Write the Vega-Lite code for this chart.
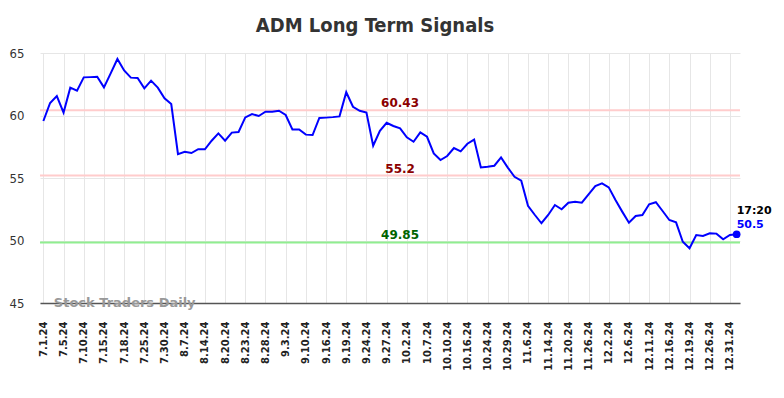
{
  "$schema": "https://vega.github.io/schema/vega-lite/v6.json",
  "width": 700,
  "height": 250,
  "autosize": {"type": "none"},
  "padding": {"left": 40, "top": 53, "right": 44, "bottom": 95},
  "background": "white",
  "title": {
    "text": "ADM Long Term Signals",
    "font": "DejaVu Sans Condensed",
    "fontSize": 20,
    "fontWeight": "bold",
    "color": "#333333",
    "anchor": "middle",
    "dx": -15,
    "offset": 11
  },
  "config": {
    "view": {"stroke": null},
    "axis": {"gridColor": "#e6e6e6", "gridWidth": 1}
  },
  "datasets": {
    "levels": [
      {"level": 60.43, "label": "60.43"},
      {"level": 55.2, "label": "55.2"},
      {"level": 49.85, "label": "49.85"}
    ],
    "mark": [{"t": "Stock Traders Daily"}]
  },
  "data": {"values": [
    {"d": "7.1.24", "v": 59.56}, {"d": "7.2.24", "v": 61.0}, {"d": "7.3.24", "v": 61.56},
    {"d": "7.5.24", "v": 60.23}, {"d": "7.8.24", "v": 62.23}, {"d": "7.9.24", "v": 61.98},
    {"d": "7.10.24", "v": 63.05}, {"d": "7.11.24", "v": 63.07}, {"d": "7.12.24", "v": 63.1},
    {"d": "7.15.24", "v": 62.25}, {"d": "7.16.24", "v": 63.37}, {"d": "7.17.24", "v": 64.52},
    {"d": "7.18.24", "v": 63.6}, {"d": "7.22.24", "v": 63.03}, {"d": "7.23.24", "v": 63.0},
    {"d": "7.25.24", "v": 62.17}, {"d": "7.26.24", "v": 62.79}, {"d": "7.29.24", "v": 62.23},
    {"d": "7.30.24", "v": 61.37}, {"d": "8.1.24", "v": 60.92}, {"d": "8.5.24", "v": 56.9},
    {"d": "8.7.24", "v": 57.1}, {"d": "8.9.24", "v": 57.0}, {"d": "8.12.24", "v": 57.3},
    {"d": "8.14.24", "v": 57.3}, {"d": "8.15.24", "v": 57.98}, {"d": "8.19.24", "v": 58.57},
    {"d": "8.20.24", "v": 57.98}, {"d": "8.21.24", "v": 58.63}, {"d": "8.22.24", "v": 58.68},
    {"d": "8.23.24", "v": 59.85}, {"d": "8.26.24", "v": 60.12}, {"d": "8.27.24", "v": 59.96},
    {"d": "8.28.24", "v": 60.3}, {"d": "8.29.24", "v": 60.3}, {"d": "8.30.24", "v": 60.38},
    {"d": "9.3.24", "v": 60.04}, {"d": "9.5.24", "v": 58.89}, {"d": "9.9.24", "v": 58.89},
    {"d": "9.10.24", "v": 58.47}, {"d": "9.12.24", "v": 58.44}, {"d": "9.13.24", "v": 59.8},
    {"d": "9.16.24", "v": 59.83}, {"d": "9.17.24", "v": 59.87}, {"d": "9.18.24", "v": 59.93},
    {"d": "9.19.24", "v": 61.86}, {"d": "9.20.24", "v": 60.7}, {"d": "9.23.24", "v": 60.38},
    {"d": "9.24.24", "v": 60.23}, {"d": "9.25.24", "v": 57.58}, {"d": "9.26.24", "v": 58.78},
    {"d": "9.27.24", "v": 59.42}, {"d": "9.30.24", "v": 59.16}, {"d": "10.1.24", "v": 58.97},
    {"d": "10.2.24", "v": 58.25}, {"d": "10.3.24", "v": 57.9}, {"d": "10.4.24", "v": 58.65},
    {"d": "10.7.24", "v": 58.3}, {"d": "10.8.24", "v": 56.97}, {"d": "10.9.24", "v": 56.44},
    {"d": "10.10.24", "v": 56.76}, {"d": "10.11.24", "v": 57.4}, {"d": "10.15.24", "v": 57.13},
    {"d": "10.16.24", "v": 57.74}, {"d": "10.18.24", "v": 58.07}, {"d": "10.22.24", "v": 55.85},
    {"d": "10.24.24", "v": 55.9}, {"d": "10.25.24", "v": 55.98}, {"d": "10.28.24", "v": 56.65},
    {"d": "10.29.24", "v": 55.83}, {"d": "11.1.24", "v": 55.1}, {"d": "11.4.24", "v": 54.78},
    {"d": "11.6.24", "v": 52.78}, {"d": "11.8.24", "v": 52.06}, {"d": "11.12.24", "v": 51.38},
    {"d": "11.14.24", "v": 52.04}, {"d": "11.18.24", "v": 52.84}, {"d": "11.19.24", "v": 52.5},
    {"d": "11.20.24", "v": 53.02}, {"d": "11.22.24", "v": 53.1}, {"d": "11.25.24", "v": 53.02},
    {"d": "11.26.24", "v": 53.69}, {"d": "11.27.24", "v": 54.36}, {"d": "11.29.24", "v": 54.57},
    {"d": "12.2.24", "v": 54.25}, {"d": "12.3.24", "v": 53.24}, {"d": "12.5.24", "v": 52.31},
    {"d": "12.6.24", "v": 51.42}, {"d": "12.9.24", "v": 51.96}, {"d": "12.10.24", "v": 52.04},
    {"d": "12.11.24", "v": 52.9}, {"d": "12.12.24", "v": 53.06}, {"d": "12.13.24", "v": 52.36},
    {"d": "12.16.24", "v": 51.64}, {"d": "12.17.24", "v": 51.45}, {"d": "12.18.24", "v": 49.9},
    {"d": "12.19.24", "v": 49.38}, {"d": "12.20.24", "v": 50.44}, {"d": "12.24.24", "v": 50.36},
    {"d": "12.26.24", "v": 50.57}, {"d": "12.27.24", "v": 50.55}, {"d": "12.30.24", "v": 50.1},
    {"d": "12.31.24", "v": 50.44}, {"d": "1.2.25", "v": 50.5, "time": "17:20"}
  ]},
  "layer": [
    {
      "data": {"name": "levels"},
      "mark": {"type": "rule", "strokeWidth": 2},
      "encoding": {
        "y": {"field": "level", "type": "quantitative", "scale": {"domain": [45, 65], "nice": false, "zero": false}},
        "color": {"condition": {"test": "datum.level < 50", "value": "#90ee90"}, "value": "#ffcccc"}
      }
    },
    {
      "mark": {"type": "line", "color": "#0000ff", "strokeWidth": 2},
      "encoding": {
        "x": {
          "field": "d", "type": "ordinal", "sort": null,
          "scale": {"type": "point", "padding": 0.5},
          "axis": {
            "title": null,
            "values": ["7.1.24","7.5.24","7.10.24","7.15.24","7.18.24","7.25.24","7.30.24","8.7.24","8.14.24","8.20.24","8.23.24","8.28.24","9.3.24","9.10.24","9.16.24","9.19.24","9.24.24","9.27.24","10.2.24","10.7.24","10.10.24","10.16.24","10.24.24","10.29.24","11.6.24","11.14.24","11.20.24","11.26.24","12.2.24","12.6.24","12.11.24","12.16.24","12.19.24","12.26.24","12.31.24"],
            "labelAngle": -90,
            "labelFont": "DejaVu Sans",
            "labelFontWeight": "bold",
            "labelFontSize": 10,
            "labelColor": "#222222",
            "labelPadding": 18,
            "ticks": false,
            "grid": true,
            "domain": true,
            "domainColor": "#555555",
            "domainWidth": 1.5
          }
        },
        "y": {
          "field": "v", "type": "quantitative",
          "scale": {"domain": [45, 65], "nice": false, "zero": false},
          "axis": {
            "title": null,
            "values": [45, 50, 55, 60, 65],
            "labelFont": "DejaVu Sans Condensed",
            "labelFontSize": 13,
            "labelColor": "#333333",
            "labelPadding": 16,
            "ticks": false,
            "domain": false,
            "grid": true
          }
        }
      }
    },
    {
      "data": {"name": "levels"},
      "mark": {"type": "text", "font": "DejaVu Sans", "fontWeight": "bold", "fontSize": 12, "align": "center", "baseline": "alphabetic", "dy": -3},
      "encoding": {
        "x": {"datum": "10.1.24"},
        "y": {"field": "level", "type": "quantitative"},
        "text": {"field": "label"},
        "color": {"condition": {"test": "datum.level < 50", "value": "#006400"}, "value": "#8b0000"}
      }
    },
    {
      "data": {"name": "mark"},
      "mark": {"type": "text", "font": "DejaVu Sans", "fontWeight": "bold", "fontSize": 13, "align": "left", "baseline": "middle", "color": "#999999", "dx": -3},
      "encoding": {
        "x": {"datum": "7.3.24"},
        "y": {"datum": 45},
        "text": {"field": "t"}
      }
    },
    {
      "transform": [{"filter": "datum.time != null"}],
      "mark": {"type": "point", "filled": true, "color": "#0000ff", "size": 60, "opacity": 1},
      "encoding": {
        "x": {"field": "d", "type": "ordinal", "sort": null},
        "y": {"field": "v", "type": "quantitative"}
      }
    },
    {
      "transform": [{"filter": "datum.time != null"}],
      "mark": {"type": "text", "font": "DejaVu Sans", "fontWeight": "bold", "fontSize": 11, "align": "left", "baseline": "alphabetic", "color": "#0000ff", "dy": -6},
      "encoding": {
        "x": {"field": "d", "type": "ordinal", "sort": null},
        "y": {"field": "v", "type": "quantitative"},
        "text": {"field": "v", "format": ".1f"}
      }
    },
    {
      "transform": [{"filter": "datum.time != null"}],
      "mark": {"type": "text", "font": "DejaVu Sans", "fontWeight": "bold", "fontSize": 11, "align": "left", "baseline": "alphabetic", "color": "#000000", "dy": -20},
      "encoding": {
        "x": {"field": "d", "type": "ordinal", "sort": null},
        "y": {"field": "v", "type": "quantitative"},
        "text": {"field": "time"}
      }
    }
  ]
}
